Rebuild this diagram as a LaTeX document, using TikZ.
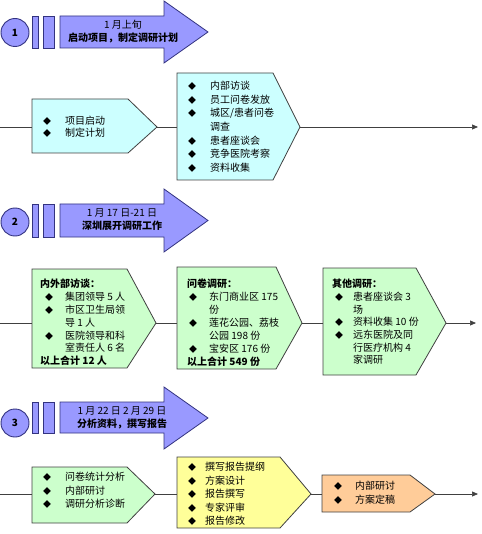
\documentclass[tikz,border=0pt]{standalone}
\usepackage{fontspec}
\setmainfont{Noto Sans CJK SC}
\usetikzlibrary{arrows.meta}
\definecolor{peri}{HTML}{9999FF}
\definecolor{navy}{HTML}{333380}
\definecolor{cyanf}{HTML}{CCFFFF}
\definecolor{greenf}{HTML}{CCFFCC}
\definecolor{yellowf}{HTML}{FFFF99}
\definecolor{orangef}{HTML}{FFCC99}
\definecolor{edge}{HTML}{404040}
\newcommand\bl[2]{\hspace*{#1pt}\makebox[#2pt][l]{\fontsize{8}{8}\selectfont ◆}}
\newcommand\ct[1]{\hspace*{#1pt}}
\newcommand\pbox[8]{%
  \draw[boxline,fill=#8] (#2,#3) -- (#4,#3) -- (#5,#7) -- (#4,#6) -- (#2,#6) -- cycle;
  \coordinate (#1-w) at (#2,#7); \coordinate (#1-e) at (#5,#7);}
\newcommand\header[5]{% name, body top, body bottom, head top, head bottom
  \draw[hdr] (60,#2) -- (164,#2) -- (164,#4) -- (208,{(#4+#5)/2}) -- (164,#5) -- (164,#3) -- (60,#3) -- cycle;
  \draw[hdr] (32,#2) rectangle (38,#3);
  \draw[hdr] (43,#2) rectangle (54,#3);}
\tikzset{
  boxline/.style={draw=edge,line width=0.8pt},
  hdr/.style={draw=navy,fill=peri,line width=0.8pt},
  num/.style={circle,draw=navy,fill=peri,line width=0.9pt,minimum size=28pt,inner sep=0,font=\fontsize{10}{10}\selectfont\bfseries},
  htxt/.style={align=center,inner sep=0,font=\fontsize{10}{13}\selectfont},
  txt/.style={anchor=north west,inner sep=0,align=left},
  flow/.style={draw=edge,line width=0.7pt},
  flowend/.style={flow,-{Triangle[length=6pt,width=5pt]}},
}
\begin{document}
\begin{tikzpicture}[x=1pt,y=-1pt]
\useasboundingbox (0,0) rectangle (481,534);
% ---------- Row 1 ----------
\header{h1}{16}{48}{1}{63}
\node[num] (n1) at (15,32.5) {1};
\node[htxt] (h1t) at (123,31.5) {1 月上旬\\\bfseries 启动项目，制定调研计划};
\coordinate (s1) at (0,127);
\coordinate (e1) at (478,127);
\pbox{a1}{32}{99}{128}{157}{153}{127}{cyanf}
\pbox{a2}{177}{73}{273}{300}{180}{127}{cyanf}
\draw[flow] (s1) -- (a1-w);
\draw[flow] (a1-e) -- (a2-w);
\draw[flowend] (a2-e) -- (e1);
\node[txt,font=\fontsize{10}{12}\selectfont] (t11) at (43,116) {\bl{0}{22}项目启动\\\bl{0}{22}制定计划};
\node[txt,font=\fontsize{10}{13.67}\selectfont] (t12) at (188,81) {\bl{0}{22}内部访谈\\\bl{0}{22}员工问卷发放\\\bl{0}{22}城区/患者问卷\\\ct{22}调查\\\bl{0}{22}患者座谈会\\\bl{0}{22}竞争医院考察\\\bl{0}{22}资料收集};
% ---------- Row 2 ----------
\header{h2}{204}{237}{189}{252}
\node[num] (n2) at (15,222) {2};
\node[htxt] (h2t) at (122,220) {1 月 17 日-21 日\\\bfseries 深圳展开调研工作};
\coordinate (s2) at (0,323);
\coordinate (e2) at (476,323);
\pbox{b1}{32}{269}{127}{156}{368}{323}{greenf}
\pbox{b2}{177}{267}{276}{302}{369}{323}{greenf}
\pbox{b3}{323}{268}{416}{446}{375}{323}{greenf}
\draw[flow] (s2) -- (b1-w);
\draw[flow] (b1-e) -- (b2-w);
\draw[flow] (b2-e) -- (b3-w);
\draw[flowend] (b3-e) -- (e2);
\node[txt,font=\fontsize{10}{12.8}\selectfont] (t21) at (40,279) {\textbf{内外部访谈：}\\\bl{5}{20}集团领导 5 人\\\bl{5}{20}市区卫生局领\\\ct{25}导 1 人\\\bl{5}{20}医院领导和科\\\ct{25}室责任人 6 名\\\textbf{以上合计 12 人}};
\node[txt,font=\fontsize{10}{13}\selectfont] (t22) at (187,279) {\textbf{问卷调研：}\\\bl{2}{20}东门商业区 175\\\ct{22}份\\\bl{2}{20}莲花公园、荔枝\\\ct{22}公园 198 份\\\bl{2}{20}宝安区 176 份\\\textbf{以上合计 549 份}};
\node[txt,font=\fontsize{10}{12.7}\selectfont] (t23) at (332,279) {\textbf{其他调研：}\\\bl{3}{18}患者座谈会 3\\\ct{21}场\\\bl{3}{18}资料收集 10 份\\\bl{3}{18}远东医院及同\\\ct{21}行医疗机构 4\\\ct{21}家调研};
% ---------- Row 3 ----------
\header{h3}{402}{433}{387}{449}
\node[num] (n3) at (15,423) {3};
\node[htxt] (h3t) at (122,418) {1 月 22 日 2 月 29 日\\\bfseries 分析资料，撰写报告};
\coordinate (s3) at (0,494);
\coordinate (e3) at (478,494);
\pbox{c1}{32}{467}{127}{155}{523}{494}{greenf}
\pbox{c2}{177}{457}{280}{311}{528}{494}{yellowf}
\pbox{c3}{322}{475}{410}{435}{512}{494}{orangef}
\draw[flow] (s3) -- (c1-w);
\draw[flow] (c1-e) -- (c2-w);
\draw[flow] (c2-e) -- (c3-w);
\draw[flowend] (c3-e) -- (e3);
\node[txt,font=\fontsize{10}{13.5}\selectfont] (t31) at (43,472) {\bl{0}{22}问卷统计分析\\\bl{0}{22}内部研讨\\\bl{0}{22}调研分析诊断};
\node[txt,font=\fontsize{10}{13.5}\selectfont] (t32) at (188,462) {\bl{0}{17}撰写报告提纲\\\bl{0}{17}方案设计\\\bl{0}{17}报告撰写\\\bl{0}{17}专家评审\\\bl{0}{17}报告修改};
\node[txt,font=\fontsize{10}{14}\selectfont] (t33) at (334,481) {\bl{0}{21}内部研讨\\\bl{0}{21}方案定稿};
\end{tikzpicture}
\end{document}
